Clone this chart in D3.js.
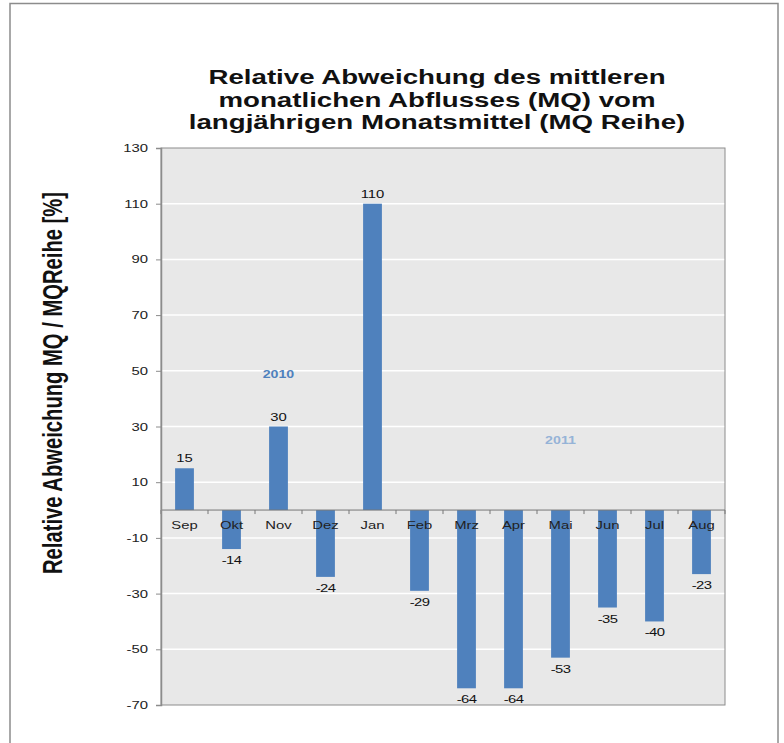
<!DOCTYPE html>
<html lang="en">
  <head>
    <meta charset="utf-8">
    <title>Relative Abweichung MQ</title>
    <script src="https://d3js.org/d3.v7.min.js"></script>
    <style>
      body { margin: 0; background: #fff; }
      text { font-family: "Liberation Sans", Arial, sans-serif; }
    </style>
  </head>
  <body>
    <script type="text/javascript">
    // data
    var months = ["Sep", "Okt", "Nov", "Dez", "Jan", "Feb", "Mrz", "Apr", "Mai", "Jun", "Jul", "Aug"];
    var values = [15, -14, 30, -24, 110, -29, -64, -64, -53, -35, -40, -23];
    var yTicks = [130, 110, 90, 70, 50, 30, 10, -10, -30, -50, -70];
    var titleLines = ["Relative Abweichung des mittleren",
                      "monatlichen Abflusses (MQ) vom",
                      "langjährigen Monatsmittel (MQ Reihe)"];
    var yTitle = "Relative Abweichung MQ / MQReihe [%]";
    var yearNotes = [{ text: "2010", month: "Nov", value: 49 },
                     { text: "2011", month: "Mai", value: 25 }];

    var w = 784, h = 743;
    var pLeft = 161, pRight = 725, pTop = 148, pBottom = 705;
    var sx = 1.35;   // picture is stretched sideways, text too

    var svg = d3.select("body").append("svg")
                .attr("width", w)
                .attr("height", h);

    // outer frame
    svg.append("rect")
       .attr("x", 10).attr("y", 3.5)
       .attr("width", 768).attr("height", 760)
       .attr("fill", "none")
       .attr("stroke", "#8c8c8c")
       .attr("stroke-width", 1.5);

    var xScale = d3.scaleBand()
                   .domain(months)
                   .range([pLeft, pRight])
                   .paddingInner(0.6)
                   .paddingOuter(0.3);

    var yScale = d3.scaleLinear()
                   .domain([-70, 130])
                   .range([pBottom, pTop]);

    // plot background
    svg.append("rect")
       .attr("x", pLeft).attr("y", pTop)
       .attr("width", pRight - pLeft).attr("height", pBottom - pTop)
       .attr("fill", "#e8e8e8");

    // grid lines
    svg.selectAll(".grid")
       .data(yTicks.filter(function(d) { return d != 130 && d != -70; }))
       .enter().append("line")
       .attr("x1", pLeft).attr("x2", pRight)
       .attr("y1", function(d) { return yScale(d); })
       .attr("y2", function(d) { return yScale(d); })
       .attr("stroke", "#ffffff")
       .attr("stroke-width", 1.5);

    // plot border
    svg.append("rect")
       .attr("x", pLeft).attr("y", pTop)
       .attr("width", pRight - pLeft).attr("height", pBottom - pTop)
       .attr("fill", "none")
       .attr("stroke", "#8c8c8c")
       .attr("stroke-width", 1);

    // bars
    svg.selectAll(".bar")
       .data(values)
       .enter().append("rect")
       .attr("class", "bar")
       .attr("x", function(d, i) { return xScale(months[i]); })
       .attr("y", function(d) { return yScale(Math.max(0, d)); })
       .attr("width", xScale.bandwidth())
       .attr("height", function(d) { return Math.abs(yScale(d) - yScale(0)); })
       .attr("fill", "#4f81bd");

    // zero line with tick marks between months
    svg.append("line")
       .attr("x1", pLeft).attr("x2", pRight)
       .attr("y1", yScale(0)).attr("y2", yScale(0))
       .attr("stroke", "#777")
       .attr("stroke-width", 1);

    var step = xScale.step();
    svg.selectAll(".xtick")
       .data(d3.range(months.length + 1))
       .enter().append("line")
       .attr("x1", function(i) { return pLeft + i * step; })
       .attr("x2", function(i) { return pLeft + i * step; })
       .attr("y1", yScale(0)).attr("y2", yScale(0) + 4)
       .attr("stroke", "#777");

    function stretched(sel, x, y) {
      return sel.append("g")
                .attr("transform", "translate(" + x + "," + y + ") scale(" + sx + ",1)")
                .append("text");
    }

    // month labels
    months.forEach(function(m) {
      stretched(svg, xScale(m) + xScale.bandwidth() / 2, yScale(0) + 19)
        .attr("text-anchor", "middle")
        .attr("font-size", "11px")
        .attr("fill", "#222")
        .text(m);
    });

    // value labels
    values.forEach(function(d, i) {
      var cx = xScale(months[i]) + xScale.bandwidth() / 2;
      var y = d >= 0 ? yScale(d) - 6 : yScale(d) + 15;
      stretched(svg, cx, y)
        .attr("text-anchor", "middle")
        .attr("font-size", "11px")
        .attr("fill", "#111")
        .attr("letter-spacing", d < 0 ? "-0.5px" : "0px")
        .text(d);
    });

    // y axis
    var yAxis = d3.axisLeft(yScale)
                  .tickValues(yTicks)
                  .tickFormat(function(d) { return String(d); })
                  .tickSize(5)
                  .tickPadding(4);

    var gy = svg.append("g")
                .attr("transform", "translate(" + pLeft + ",0)")
                .call(yAxis);
    gy.select(".domain").attr("stroke", "#8c8c8c").attr("stroke-width", 1.5);
    gy.selectAll(".tick line").attr("stroke", "#8c8c8c");
    gy.selectAll(".tick text")
      .attr("font-family", "Liberation Sans, Arial, sans-serif")
      .attr("font-size", "11px")
      .attr("fill", "#222")
      .attr("x", -13 / sx)
      .attr("transform", "scale(" + sx + ",1)");

    // year notes
    yearNotes.forEach(function(n, i) {
      stretched(svg, xScale(n.month) + xScale.bandwidth() / 2, yScale(n.value) + 4)
        .attr("text-anchor", "middle")
        .attr("font-size", "10.5px")
        .attr("font-weight", "bold")
        .attr("fill", i == 0 ? "#4f81bd" : "#95b3d7")
        .text(n.text);
    });

    // title
    titleLines.forEach(function(t, i) {
      stretched(svg, 437, 84 + i * 22.5)
        .attr("text-anchor", "middle")
        .attr("font-size", "20.5px")
        .attr("font-weight", "bold")
        .attr("fill", "#111")
        .text(t);
    });

    // y axis title
    svg.append("g")
       .attr("transform", "translate(62,383) scale(" + sx + ",1) rotate(-90)")
       .append("text")
       .attr("text-anchor", "middle")
       .attr("font-size", "20px")
       .attr("font-weight", "bold")
       .attr("textLength", 382)
       .attr("lengthAdjust", "spacingAndGlyphs")
       .attr("fill", "#111")
       .text(yTitle);

    </script>
  </body>
</html>
